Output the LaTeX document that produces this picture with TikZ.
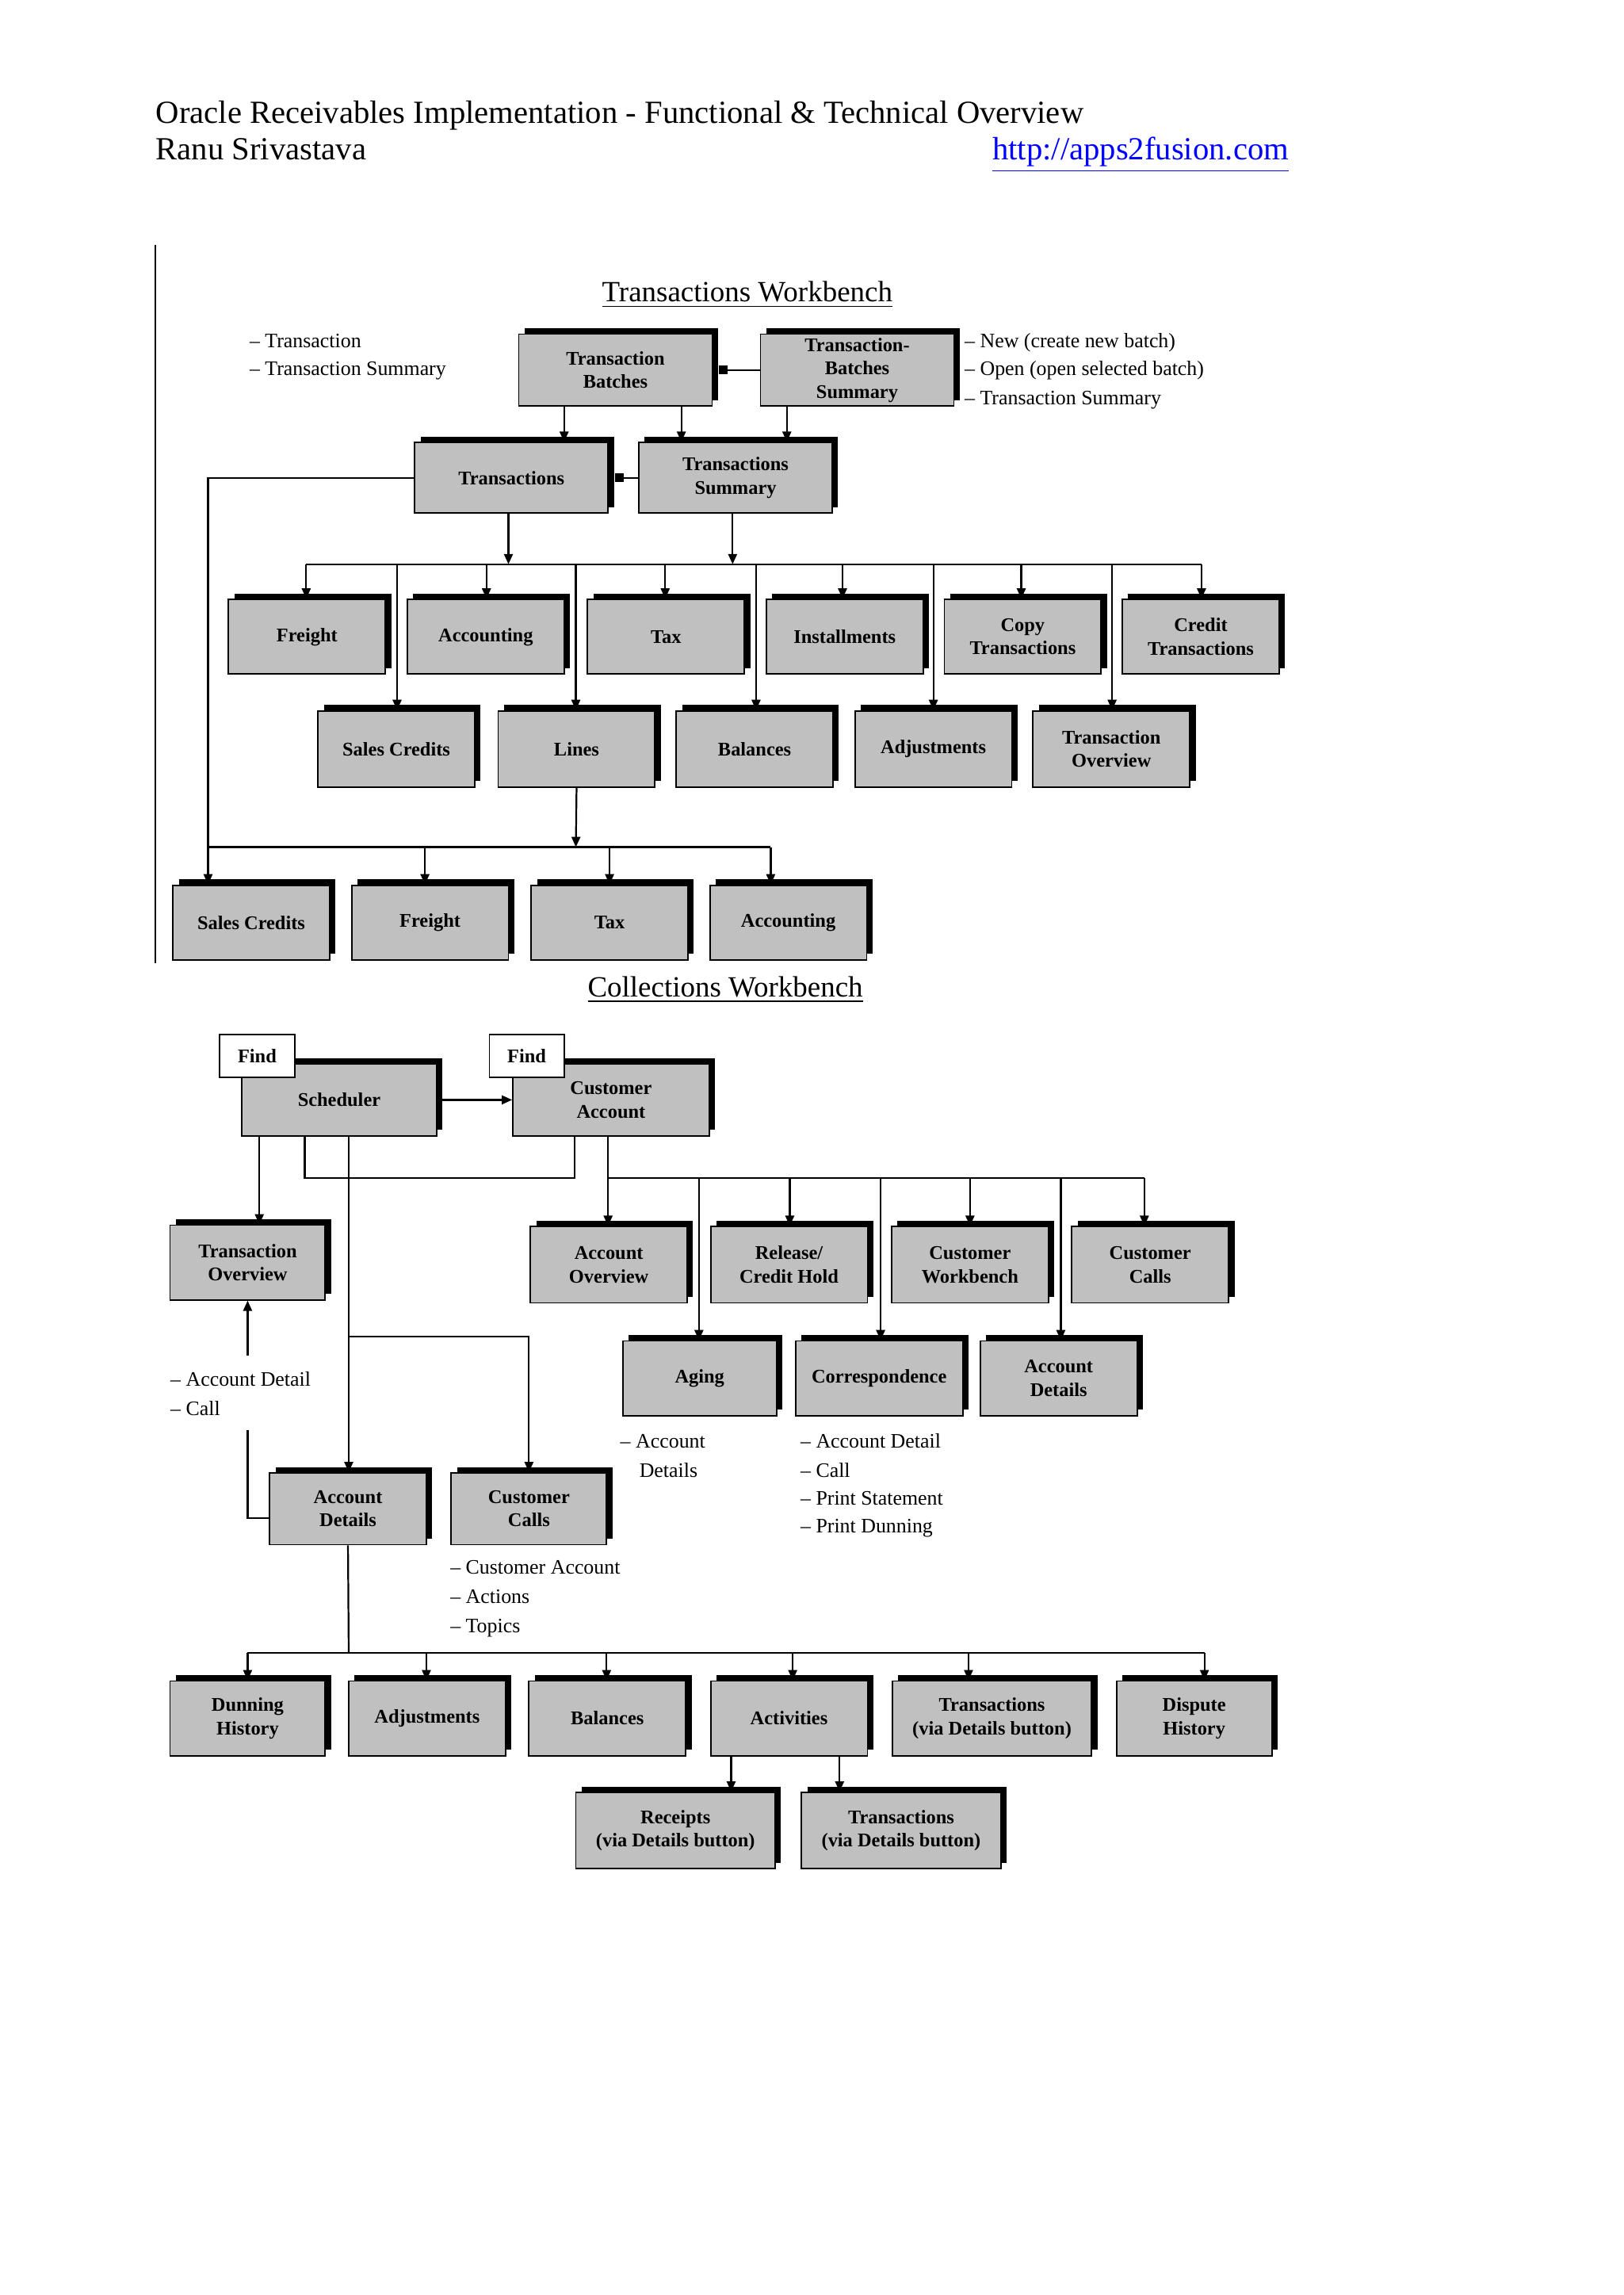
\documentclass[tikz,border=0pt]{standalone}
\usepackage{fontspec}
\setmainfont{Liberation Serif}
\usetikzlibrary{arrows.meta,shadows}
\begin{document}
\begin{tikzpicture}[x=0.5pt,y=-0.5pt,
  bx/.style={draw=black,line width=0.5pt,fill={rgb,255:red,192;green,192;blue,192},
    drop shadow={shadow xshift=2pt,shadow yshift=2pt,fill=black,opacity=1},
    minimum width=53.5pt,minimum height=25.5pt,inner sep=0pt,align=center,
    font=\fontsize{6.6}{8}\selectfont\bfseries},
  fb/.style={draw=black,line width=0.5pt,fill=white,minimum width=25.5pt,minimum height=14.5pt,
    inner sep=0pt,font=\fontsize{6.6}{8}\selectfont\bfseries},
  ann/.style={anchor=base west,inner sep=0pt,font=\fontsize{7}{9}\selectfont},
  ttl/.style={anchor=base,inner sep=0pt,font=\fontsize{10}{11}\selectfont},
  ln/.style={line width=0.6pt},
  ar/.style={line width=0.6pt,-{Triangle[width=3pt,length=3.5pt]}},
  sq/.style={line width=0.6pt,-{Square[width=3pt,length=3pt]}}]
\useasboundingbox[fill=white] (0,0) rectangle (1108,1566);
% header
\node[anchor=base west,inner sep=0pt,font=\fontsize{11}{12}\selectfont] (h1) at (106,84) {Oracle Receivables Implementation - Functional \& Technical Overview};
\node[anchor=base west,inner sep=0pt,font=\fontsize{11}{12}\selectfont] (h2) at (106,109) {Ranu Srivastava};
\node[anchor=base east,inner sep=0pt,font=\fontsize{11}{12}\selectfont,text=blue] (h3) at (880,109) {\underline{http://apps2fusion.com}};
\coordinate (v1) at (106,167); \coordinate (v2) at (106,657);
\draw[ln] (v1) -- (v2);
% Transactions workbench
\node[ttl] (t1) at (510,206) {\underline{Transactions Workbench}};
\node[ann] (a1) at (170,237) {-- Transaction};
\node[ann] (a2) at (170,256) {-- Transaction Summary};
\node[ann] (a3) at (658,237) {-- New (create new batch)};
\node[ann] (a4) at (658,256) {-- Open (open selected batch)};
\node[ann] (a5) at (658,276) {-- Transaction Summary};
\node[bx,minimum width=66pt,minimum height=24.5pt] (TB) at (420,252.5) {Transaction\\Batches};
\node[bx,minimum width=66pt,minimum height=24.5pt] (TBS) at (585,252.5) {Transaction-\\Batches\\Summary};
\node[bx,minimum width=66pt,minimum height=24pt] (TR) at (349,326) {Transactions};
\node[bx,minimum width=66pt,minimum height=24pt] (TS) at (502,326) {Transactions\\Summary};
\draw[ar] (385,0 |- TB.south) -- (385,0 |- TR.north);
\draw[ar] (465,0 |- TB.south) -- (465,0 |- TS.north);
\draw[ar] (537,0 |- TBS.south) -- (537,0 |- TS.north);
\draw[sq] (TBS.west) -- ([xshift=2pt]TB.east);
\draw[sq] (TS.west) -- ([xshift=2pt]TR.east);
\foreach \n/\x/\t in {f1/209.5/Freight,ac1/331.5/Accounting,tx1/454.5/Tax,in1/576.5/Installments,cp1/698/{Copy\\Transactions},cr1/819.5/{Credit\\Transactions}}
  \node[bx] (\n) at (\x,434.5) {\t};
\foreach \n/\x/\t in {sc2/270.5/Sales Credits,li2/393.5/Lines,ba2/515/Balances,ad2/637/Adjustments,to2/758.5/{Transaction\\Overview}}
  \node[bx,minimum height=26pt] (\n) at (\x,511) {\t};
\foreach \n/\x/\t in {sc3/171.5/Sales Credits,fr3/293.5/Freight,tx3/416/Tax,ac3/538/Accounting}
  \node[bx] (\n) at (\x,629.5) {\t};
\coordinate (b1) at (0,385);
\draw[ar] (347,0 |- TR.south) -- (347,0 |- b1);
\draw[ar] (500,0 |- TS.south) -- (500,0 |- b1);
\draw[ln] (209,0 |- b1) -- (820,0 |- b1);
\foreach \n/\x in {f1/209,ac1/332,tx1/454,in1/575,cp1/697,cr1/820}
  \draw[ar] (\x,0 |- b1) -- (\x,0 |- \n.north);
\foreach \n/\x in {sc2/271,li2/393,ba2/516,ad2/637,to2/759}
  \draw[ar] (\x,0 |- b1) -- (\x,0 |- \n.north);
\coordinate (b2) at (0,578);
\draw[ar] (li2.south) -- (393,0 |- b2);
\draw[ln] (142,0 |- b2) -- (526,0 |- b2);
\draw[ar] (TR.west) -| (142,0 |- sc3.north);
\foreach \n/\x in {fr3/290,tx3/416,ac3/526}
  \draw[ar] (\x,0 |- b2) -- (\x,0 |- \n.north);
% Collections workbench
\node[ttl] (t2) at (495,680) {\underline{Collections Workbench}};
\node[bx,minimum width=66.5pt,minimum height=24.5pt] (SC) at (231.5,750.5) {Scheduler};
\node[bx,minimum width=67pt,minimum height=24.5pt] (CA) at (417,750.5) {Customer\\Account};
\node[fb] (F1) at (175.5,720.5) {Find};
\node[fb] (F2) at (359.5,720.5) {Find};
\draw[ar] (SC.east) -- (CA.west);
\draw[ln] (208,0 |- SC.south) -- (208,804) -- (392,804) -- (392,0 |- CA.south);
\node[bx,minimum width=53pt] (TO) at (169,861.5) {Transaction\\Overview};
\draw[ar] (177,0 |- SC.south) -- (177,0 |- TO.north);
\foreach \n/\x/\t in {AO/415.5/{Account\\Overview},RC/538.5/{Release/\\Credit Hold},CW/662/{Customer\\Workbench},CC/785/{Customer\\Calls}}
  \node[bx,minimum height=26pt] (\n) at (\x,863) {\t};
\node[bx,minimum width=52.5pt] (AG) at (477.5,940.5) {Aging};
\node[bx,minimum width=57pt] (CO) at (600,940.5) {Correspondence};
\node[bx] (AD2) at (722.5,940.5) {Account\\Details};
\coordinate (b3) at (0,804);
\draw[ln] (415,0 |- CA.south) -- (415,0 |- b3) -- (781,0 |- b3);
\foreach \n/\x in {AO/415,RC/539,CW/662,CC/781,AG/477,CO/601,AD2/724}
  \draw[ar] (\x,0 |- b3) -- (\x,0 |- \n.north);
\node[bx,minimum height=24.5pt] (AD) at (237.5,1029.5) {Account\\Details};
\node[bx,minimum width=53pt,minimum height=24.5pt] (CC2) at (361,1029.5) {Customer\\Calls};
\draw[ar] (238,0 |- SC.south) -- (238,0 |- AD.north);
\draw[ar] (238,912) -- (361,912) -- (361,0 |- CC2.north);
\node[ann] (a6) at (116,946) {-- Account Detail};
\node[ann] (a7) at (116,966) {-- Call};
\draw[ar] (169,925) -- (169,0 |- TO.south);
\draw[ln] (169,976) -- (169,1036) -- (184,1036);
\node[ann] (a8) at (423,988) {-- Account};
\node[ann] (a9) at (436,1008) {Details};
\node[ann] (a10) at (546,988) {-- Account Detail};
\node[ann] (a11) at (546,1008) {-- Call};
\node[ann] (a12) at (546,1027) {-- Print Statement};
\node[ann] (a13) at (546,1046) {-- Print Dunning};
\node[ann] (a14) at (307,1074) {-- Customer Account};
\node[ann] (a15) at (307,1094) {-- Actions};
\node[ann] (a16) at (307,1114) {-- Topics};
\foreach \n/\x/\w/\t in {DH/169/53/{Dunning\\History},AJ/291.5/53.5/Adjustments,BA/414.5/53.5/Balances,AV/538.5/53.5/Activities,TV/677/68/{Transactions\\(via Details button)},DI/815/53/{Dispute\\History}}
  \node[bx,minimum width=\w pt] (\n) at (\x,1172.5) {\t};
\coordinate (b4) at (0,1128);
\draw[ln] (AD.south) -- (238,0 |- b4);
\draw[ln] (169,0 |- b4) -- (822,0 |- b4);
\foreach \n/\x in {DH/169,AJ/291,BA/414,AV/541,TV/661,DI/822}
  \draw[ar] (\x,0 |- b4) -- (\x,0 |- \n.north);
\node[bx,minimum width=68pt,minimum height=26pt] (RV) at (461,1249) {Receipts\\(via Details button)};
\node[bx,minimum width=68pt,minimum height=26pt] (TV2) at (615,1249) {Transactions\\(via Details button)};
\draw[ar] (499,0 |- AV.south) -- (499,0 |- RV.north);
\draw[ar] (573,0 |- AV.south) -- (573,0 |- TV2.north);
\end{tikzpicture}
\end{document}
